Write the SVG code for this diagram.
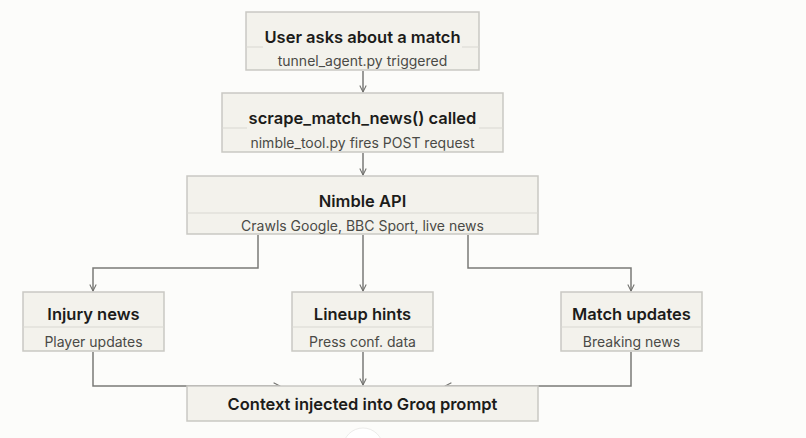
<svg xmlns="http://www.w3.org/2000/svg" width="806" height="438" viewBox="0 0 806 438">
<defs>
<marker id="arr" viewBox="0 0 10 10" refX="9" refY="5" markerWidth="8" markerHeight="8" orient="auto" markerUnits="userSpaceOnUse">
<path d="M1,1 L9,5 L1,9" fill="none" stroke="#6f6f6c" stroke-width="1.3"/>
</marker>
<style>
.box{fill:#f3f2ec;stroke:#c9c8c3;stroke-width:1.5}
.div{stroke:#d9d8d2;stroke-width:1}
.t{font-family:Inter,"Noto Sans",sans-serif;font-weight:600;font-size:16.5px;fill:#1c1c1a;text-anchor:middle}
.s{font-family:Inter,"Noto Sans",sans-serif;font-size:14px;fill:#4a4a46;text-anchor:middle}
.c{fill:none;stroke:#7a7a77;stroke-width:1.5}
</style>
</defs>
<rect width="806" height="438" fill="#fcfcfa"/>
<g id="connectors">
<path class="c" d="M363,71 V92" marker-end="url(#arr)"/>
<path class="c" d="M363,153 V175" marker-end="url(#arr)"/>
<path class="c" d="M258,235 V268 H93 V291" marker-end="url(#arr)"/>
<path class="c" d="M363,235 V291" marker-end="url(#arr)"/>
<path class="c" d="M468,235 V268 H631 V291" marker-end="url(#arr)"/>
<path class="c" d="M93,352 V386 H280" marker-end="url(#arr)"/>
<path class="c" d="M363,352 V385" marker-end="url(#arr)"/>
<path class="c" d="M631,352 V386 H445" marker-end="url(#arr)"/>
</g>
<g id="n1">
<rect class="box" x="246" y="12" width="233" height="58"/>
<line class="div" x1="246" y1="47" x2="263" y2="47"/>
<line class="div" x1="462" y1="47" x2="479" y2="47"/>
<text class="t" x="362.5" y="43">User asks about a match</text>
<text class="s" x="362.5" y="66">tunnel_agent.py triggered</text>
</g>
<g id="n2">
<rect class="box" x="222" y="93" width="281" height="59"/>
<line class="div" x1="222" y1="128" x2="247" y2="128"/>
<line class="div" x1="479" y1="128" x2="503" y2="128"/>
<text class="t" x="362.5" y="124">scrape_match_news() called</text>
<text class="s" x="362.5" y="148">nimble_tool.py fires POST request</text>
</g>
<g id="n3">
<rect class="box" x="187" y="176" width="351" height="58"/>
<line class="div" x1="187" y1="213" x2="538" y2="213"/>
<text class="t" x="362.5" y="207">Nimble API</text>
<text class="s" x="362.5" y="231">Crawls Google, BBC Sport, live news</text>
</g>
<g id="n4">
<rect class="box" x="23" y="292" width="141" height="59"/>
<line class="div" x1="23" y1="327" x2="164" y2="327"/>
<text class="t" x="93.5" y="320">Injury news</text>
<text class="s" x="93.5" y="347">Player updates</text>
</g>
<g id="n5">
<rect class="box" x="292" y="292" width="141" height="59"/>
<line class="div" x1="292" y1="327" x2="433" y2="327"/>
<text class="t" x="362.5" y="320">Lineup hints</text>
<text class="s" x="362.5" y="347">Press conf. data</text>
</g>
<g id="n6">
<rect class="box" x="561" y="292" width="141" height="59"/>
<line class="div" x1="561" y1="327" x2="702" y2="327"/>
<text class="t" x="631.5" y="320">Match updates</text>
<text class="s" x="631.5" y="347">Breaking news</text>
</g>
<g id="n7">
<rect class="box" x="187" y="386" width="351" height="35"/>
<text class="t" x="362.5" y="410">Context injected into Groq prompt</text>
</g>
<circle cx="363" cy="448" r="20" fill="#ffffff" stroke="#ececea" stroke-width="1"/>
</svg>
